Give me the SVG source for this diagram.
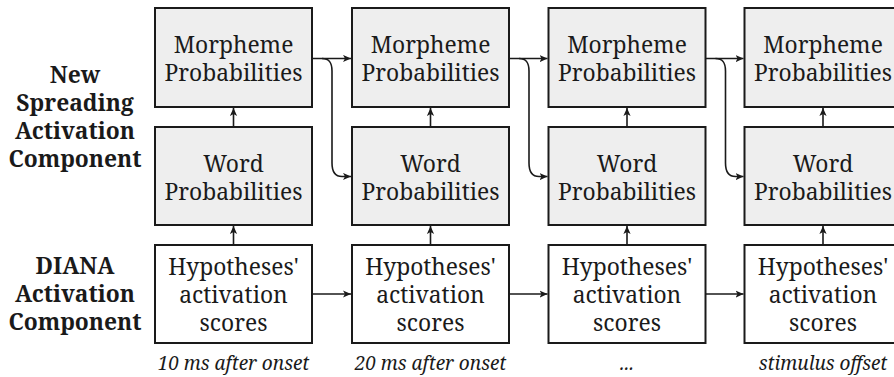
<svg xmlns="http://www.w3.org/2000/svg" width="894" height="377" viewBox="0 0 894 377">
<style>
text{font-family:"Noto Serif","DejaVu Serif","Liberation Serif",serif;fill:#1a1a1a;text-anchor:middle}
.t{font-size:22.8px}
.l{font-size:22.8px;font-weight:bold}
.c{font-size:19px;font-style:italic}
.g{fill:#eeeeee;stroke:#1a1a1a;stroke-width:2}
.w{fill:#ffffff;stroke:#1a1a1a;stroke-width:2}
.e{fill:none;stroke:#1a1a1a;stroke-width:1.6}
</style>
<defs>
<marker id="a" viewBox="0 0 10 10" refX="10" refY="5" markerWidth="8" markerHeight="8" markerUnits="userSpaceOnUse" orient="auto"><path d="M0,0.5L10,5L0,9.5L2.5,5Z" fill="#1a1a1a"/></marker>
</defs>
<g id="labels">
<text class="l" x="75" y="83">New</text>
<text class="l" x="75" y="111">Spreading</text>
<text class="l" x="75" y="139">Activation</text>
<text class="l" x="75" y="167">Component</text>
<text class="l" x="75" y="274">DIANA</text>
<text class="l" x="75" y="302">Activation</text>
<text class="l" x="75" y="330">Component</text>
</g>
<g id="col1">
<g id="m1"><rect class="g" x="155" y="8" width="157" height="99"/><text class="t" x="233.5" y="53">Morpheme</text><text class="t" x="233.5" y="81">Probabilities</text></g>
<g id="w1"><rect class="g" x="155" y="127" width="157" height="98"/><text class="t" x="233.5" y="172">Word</text><text class="t" x="233.5" y="200">Probabilities</text></g>
<g id="h1"><rect class="w" x="155" y="245" width="157" height="98"/><text class="t" x="233.5" y="275">Hypotheses'</text><text class="t" x="233.5" y="303">activation</text><text class="t" x="233.5" y="331">scores</text></g>
<text class="c" x="233.5" y="370">10 ms after onset</text>
</g>
<g id="col2">
<g id="m2"><rect class="g" x="352" y="8" width="157" height="99"/><text class="t" x="430.5" y="53">Morpheme</text><text class="t" x="430.5" y="81">Probabilities</text></g>
<g id="w2"><rect class="g" x="352" y="127" width="157" height="98"/><text class="t" x="430.5" y="172">Word</text><text class="t" x="430.5" y="200">Probabilities</text></g>
<g id="h2"><rect class="w" x="352" y="245" width="157" height="98"/><text class="t" x="430.5" y="275">Hypotheses'</text><text class="t" x="430.5" y="303">activation</text><text class="t" x="430.5" y="331">scores</text></g>
<text class="c" x="430.5" y="370">20 ms after onset</text>
</g>
<g id="col3">
<g id="m3"><rect class="g" x="548.5" y="8" width="157" height="99"/><text class="t" x="627" y="53">Morpheme</text><text class="t" x="627" y="81">Probabilities</text></g>
<g id="w3"><rect class="g" x="548.5" y="127" width="157" height="98"/><text class="t" x="627" y="172">Word</text><text class="t" x="627" y="200">Probabilities</text></g>
<g id="h3"><rect class="w" x="548.5" y="245" width="157" height="98"/><text class="t" x="627" y="275">Hypotheses'</text><text class="t" x="627" y="303">activation</text><text class="t" x="627" y="331">scores</text></g>
<text class="c" x="627" y="370">...</text>
</g>
<g id="col4">
<g id="m4"><rect class="g" x="744.5" y="8" width="157" height="99"/><text class="t" x="823" y="53">Morpheme</text><text class="t" x="823" y="81">Probabilities</text></g>
<g id="w4"><rect class="g" x="744.5" y="127" width="157" height="98"/><text class="t" x="823" y="172">Word</text><text class="t" x="823" y="200">Probabilities</text></g>
<g id="h4"><rect class="w" x="744.5" y="245" width="157" height="98"/><text class="t" x="823" y="275">Hypotheses'</text><text class="t" x="823" y="303">activation</text><text class="t" x="823" y="331">scores</text></g>
<text class="c" x="823" y="370">stimulus offset</text>
</g>
<g id="connectors">
<path class="e" d="M233.5,127V108" marker-end="url(#a)"/>
<path class="e" d="M233.5,245V226" marker-end="url(#a)"/>
<path class="e" d="M430.5,127V108" marker-end="url(#a)"/>
<path class="e" d="M430.5,245V226" marker-end="url(#a)"/>
<path class="e" d="M627,127V108" marker-end="url(#a)"/>
<path class="e" d="M627,245V226" marker-end="url(#a)"/>
<path class="e" d="M823,127V108" marker-end="url(#a)"/>
<path class="e" d="M823,245V226" marker-end="url(#a)"/>
<path class="e" d="M312,58.5H351" marker-end="url(#a)"/>
<path class="e" d="M509,58.5H547.5" marker-end="url(#a)"/>
<path class="e" d="M705.5,58.5H743.5" marker-end="url(#a)"/>
<path class="e" d="M312,294H351" marker-end="url(#a)"/>
<path class="e" d="M509,294H547.5" marker-end="url(#a)"/>
<path class="e" d="M705.5,294H743.5" marker-end="url(#a)"/>
<path class="e" d="M322,58.5C329,58.5 332,62 332,71V163C332,172 335,176.5 342,176.5H351" marker-end="url(#a)"/>
<path class="e" d="M519,58.5C526,58.5 529,62 529,71V163C529,172 532,176.5 539,176.5H547.5" marker-end="url(#a)"/>
<path class="e" d="M715.5,58.5C722.5,58.5 725.5,62 725.5,71V163C725.5,172 728.5,176.5 735.5,176.5H743.5" marker-end="url(#a)"/>
</g>
</svg>
